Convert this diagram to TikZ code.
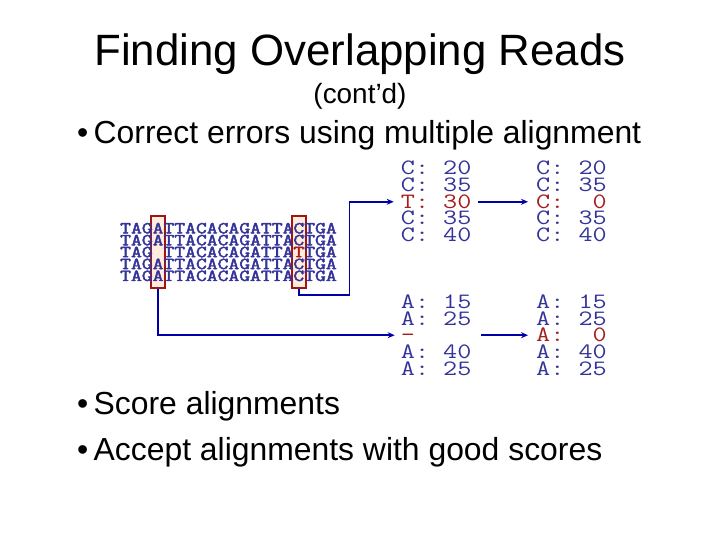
\documentclass[tikz,border=0pt]{standalone}
\usepackage{fontspec}
\usepackage{graphicx}
\setmainfont{Liberation Sans}
\newfontfamily\seqfam{Latin Modern Mono}[FakeBold=2.4]
\newfontfamily\scorefam{Latin Modern Mono}
\newcommand\squash[1]{\scalebox{1}[0.8]{#1}}
\usetikzlibrary{arrows.meta}
\definecolor{seqblue}{RGB}{51,51,153}
\definecolor{errred}{RGB}{165,30,30}
\definecolor{linkblue}{RGB}{0,0,170}
\definecolor{boxred}{RGB}{160,20,20}
\definecolor{boxfill}{RGB}{255,236,220}

\begin{document}
\begin{tikzpicture}[x=1bp,y=-1bp,
  heading/.style={inner sep=0pt,anchor=base},
  bullet/.style={inner sep=0pt,anchor=base west,font=\fontsize{32}{36}\selectfont},
  seqrow/.style={inner sep=0pt,anchor=base west,text=seqblue,font=\seqfam\fontsize{21.1}{21.1}\selectfont},
  colbox/.style={draw=boxred,fill=boxfill,line width=2bp,minimum width=14.5bp,minimum height=72bp,inner sep=0pt},
  score/.style={inner sep=0pt,anchor=base west,text=seqblue,font=\scorefam\fontsize{27.5}{27.5}\selectfont,text height=13bp,text depth=0pt,text width=69bp},
  link/.style={draw=linkblue,line width=1.6bp,-{Stealth[length=7bp,width=6bp]}}]
\useasboundingbox (0,0) rectangle (720,540);

\node[heading,font=\fontsize{44}{48}\selectfont] (title) at (360,66) {Finding Overlapping Reads};
\node[heading,font=\fontsize{28}{32}\selectfont] (sub) at (360,104) {(cont’d)};
\node[bullet] (b1) at (77,144) {•};
\node[bullet] (t1) at (93.5,144) {Correct errors using multiple alignment};
\node[bullet] (b2) at (77,414) {•};
\node[bullet] (t2) at (93.5,414) {Score alignments};
\node[bullet] (b3) at (77,460) {•};
\node[bullet] (t3) at (93.5,460) {Accept alignments with good scores};

\node[colbox] (boxA) at (158,252) {};
\node[colbox] (boxC) at (299,252) {};

\node[seqrow] (r1) at (120,233.4) {\squash{TAGATTACACAGATTACTGA}};
\node[seqrow] (r2) at (120,245.3) {\squash{TAGATTACACAGATTACTGA}};
\node[seqrow] (r3) at (120,257.2) {\squash{TAG\hphantom{A}TTACACAGATTA\textcolor{errred}{T}TGA}};
\node[seqrow] (r4) at (120,269.1) {\squash{TAGATTACACAGATTACTGA}};
\node[seqrow] (r5) at (120,281.0) {\squash{TAGATTACACAGATTACTGA}};

\node[score] (ca1) at (400.7,175) {\squash{C:\hphantom{0}20}};
\node[score] (ca2) at (400.7,191.7) {\squash{C:\hphantom{0}35}};
\node[score,text=errred] (ca3) at (400.7,208.3) {\squash{T:\hphantom{0}30}};
\node[score] (ca4) at (400.7,225) {\squash{C:\hphantom{0}35}};
\node[score] (ca5) at (400.7,241.7) {\squash{C:\hphantom{0}40}};

\node[score] (cb1) at (536,175) {\squash{C:\hphantom{0}20}};
\node[score] (cb2) at (536,191.7) {\squash{C:\hphantom{0}35}};
\node[score,text=errred] (cb3) at (536,208.3) {\squash{C:\hphantom{00}0}};
\node[score] (cb4) at (536,225) {\squash{C:\hphantom{0}35}};
\node[score] (cb5) at (536,241.7) {\squash{C:\hphantom{0}40}};

\node[score] (aa1) at (400.7,308.3) {\squash{A:\hphantom{0}15}};
\node[score] (aa2) at (400.7,325) {\squash{A:\hphantom{0}25}};
\node[score,text=errred] (aa3) at (400.7,341.7) {\squash{-}};
\node[score] (aa4) at (400.7,358.3) {\squash{A:\hphantom{0}40}};
\node[score] (aa5) at (400.7,375) {\squash{A:\hphantom{0}25}};

\node[score] (ab1) at (536,308.3) {\squash{A:\hphantom{0}15}};
\node[score] (ab2) at (536,325) {\squash{A:\hphantom{0}25}};
\node[score,text=errred] (ab3) at (536,341.7) {\squash{A:\hphantom{00}0}};
\node[score] (ab4) at (536,358.3) {\squash{A:\hphantom{0}40}};
\node[score] (ab5) at (536,375) {\squash{A:\hphantom{0}25}};

\coordinate (bendC) at (349.3,295);
\draw[link] (boxC.south) |- (bendC) |- ([xshift=-7bp]ca3.west);
\draw[link] (boxA.south) |- ([xshift=-6bp]aa3.west);
\draw[link,shorten <=8bp,shorten >=8bp] (ca3.east) -- (cb3.west);
\draw[link,shorten <=11bp,shorten >=8bp] (aa3.east) -- (ab3.west);
\end{tikzpicture}
\end{document}
